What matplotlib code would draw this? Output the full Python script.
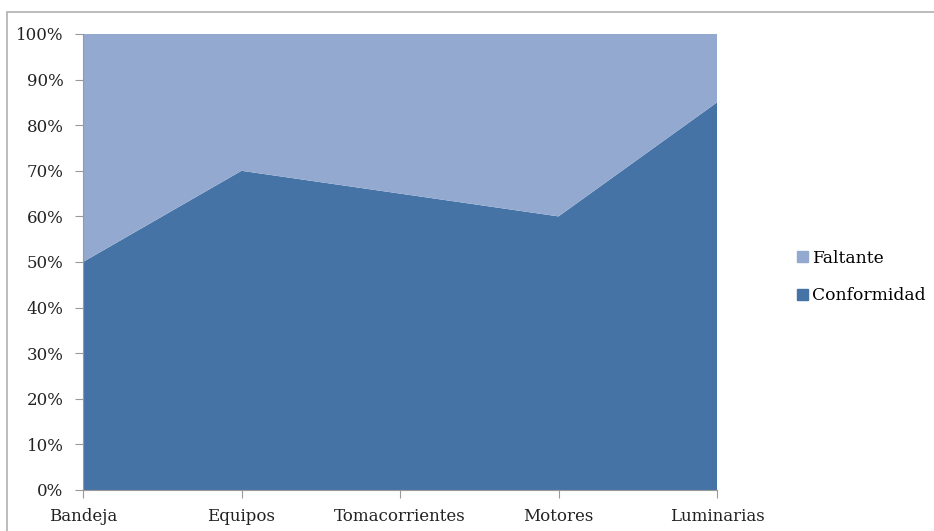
import matplotlib.pyplot as plt
from matplotlib.patches import Rectangle, Patch
from matplotlib.ticker import PercentFormatter

categorias = ["Bandeja", "Equipos", "Tomacorrientes", "Motores", "Luminarias"]
conformidad = [50, 70, 65, 60, 85]
faltante = [50, 30, 35, 40, 15]

col_conf = "#4673A6"
col_falt = "#93A9CF"

plt.rcParams['font.family'] = ['DejaVu Serif']

fig = plt.figure(figsize=(9.34, 5.31), dpi=100)
ax = fig.add_axes([83 / 934, 41 / 531, 634 / 934, 456 / 531])

x = list(range(len(categorias)))
ax.stackplot(x, conformidad, faltante, colors=[col_conf, col_falt],
             labels=["Conformidad", "Faltante"], linewidth=0)

ax.set_xlim(0, len(categorias) - 1)
ax.set_ylim(0, 100)
ax.set_yticks(range(0, 101, 10))
ax.yaxis.set_major_formatter(PercentFormatter(decimals=0))
ax.set_xticks(x)
ax.set_xticklabels(categorias)

for s in ["top", "right"]:
    ax.spines[s].set_visible(False)
for s in ["left", "bottom"]:
    ax.spines[s].set_color("#999999")
    ax.spines[s].set_linewidth(0.8)
ax.tick_params(axis="both", colors="#999999", labelcolor="#222222",
               labelsize=12, length=6, width=0.8)
ax.tick_params(axis="x", pad=7)
ax.tick_params(axis="y", pad=8)

# borde del area del grafico
fig.patches.append(Rectangle((7 / 934, -0.1), 1.1, 1 - 12 / 531 + 0.1,
                             transform=fig.transFigure, fill=False,
                             edgecolor="#b0b0b0", linewidth=1.2))

handles = [Patch(color=col_falt), Patch(color=col_conf)]
fig.legend(handles, ["Faltante", "Conformidad"], loc="center left",
           bbox_to_anchor=(782 / 934, 254 / 531), frameon=False,
           fontsize=12.3, handlelength=0.65, handleheight=0.65,
           handletextpad=0.2, labelspacing=1.2)

fig.savefig("out.png", dpi=100)
